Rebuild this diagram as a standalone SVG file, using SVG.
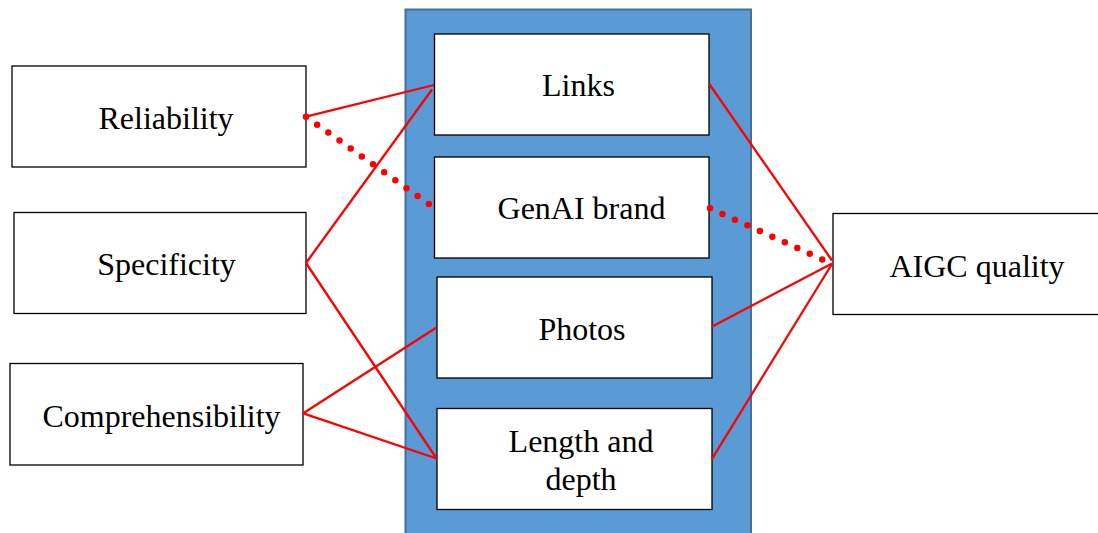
<svg xmlns="http://www.w3.org/2000/svg" width="1098" height="533" viewBox="0 0 1098 533">
<style>
.box{fill:#fff;stroke:#000;stroke-width:1.3}
.lbl{font-family:"Liberation Serif","Times New Roman",serif;font-size:32px;fill:#000;text-anchor:middle}
.ln{stroke:#FF0000;stroke-width:2.3;fill:none}
.dot{stroke:#FF0000;stroke-width:6.5;stroke-linecap:round;fill:none}
</style>
<rect width="1098" height="533" fill="#fff"/>
<g id="panel">
<rect x="405.5" y="9.5" width="345.5" height="530" fill="#5B9BD5" stroke="#41719C" stroke-width="2"/>
</g>
<g id="links"><rect class="box" x="434.5" y="34" width="274.5" height="101"/><text class="lbl" x="578.5" y="96">Links</text></g>
<g id="genai"><rect class="box" x="434.5" y="157" width="274.5" height="101"/><text class="lbl" x="581.5" y="219">GenAI brand</text></g>
<g id="photos"><rect class="box" x="437" y="277" width="275" height="101"/><text class="lbl" x="582" y="340">Photos</text></g>
<g id="length"><rect class="box" x="437" y="408.5" width="275" height="101"/><text class="lbl" x="581" y="452">Length and</text><text class="lbl" x="581" y="490">depth</text></g>
<g id="reliability"><rect class="box" x="12" y="66" width="294" height="101"/><text class="lbl" x="166" y="129">Reliability</text></g>
<g id="specificity"><rect class="box" x="14" y="212.5" width="292" height="101"/><text class="lbl" x="166.5" y="275">Specificity</text></g>
<g id="comprehensibility"><rect class="box" x="10" y="363.5" width="293" height="101.5"/><text class="lbl" x="161.5" y="426.5">Comprehensibility</text></g>
<g id="aigc"><rect class="box" x="833" y="213.5" width="270" height="101"/><text class="lbl" x="977" y="276.5">AIGC quality</text></g>
<g id="connectors">
<line class="ln" x1="306" y1="116.7" x2="434" y2="85"/>
<line class="dot" x1="306" y1="116.7" x2="429.5" y2="204.5" stroke-dasharray="0 13.7"/>
<line class="ln" x1="306" y1="263" x2="432" y2="89.5"/>
<line class="ln" x1="306" y1="263" x2="436.5" y2="458.5"/>
<line class="ln" x1="303.3" y1="413.3" x2="436.5" y2="327.5"/>
<line class="ln" x1="303.3" y1="413.3" x2="436.5" y2="458.5"/>
<line class="ln" x1="709.3" y1="84" x2="832" y2="260.5"/>
<line class="dot" x1="710" y1="208.3" x2="822.7" y2="259.6" stroke-dasharray="0 13.7"/>
<line class="ln" x1="711.7" y1="326.7" x2="832" y2="263.5"/>
<line class="ln" x1="711.7" y1="459.3" x2="832" y2="264"/>
</g>
</svg>
